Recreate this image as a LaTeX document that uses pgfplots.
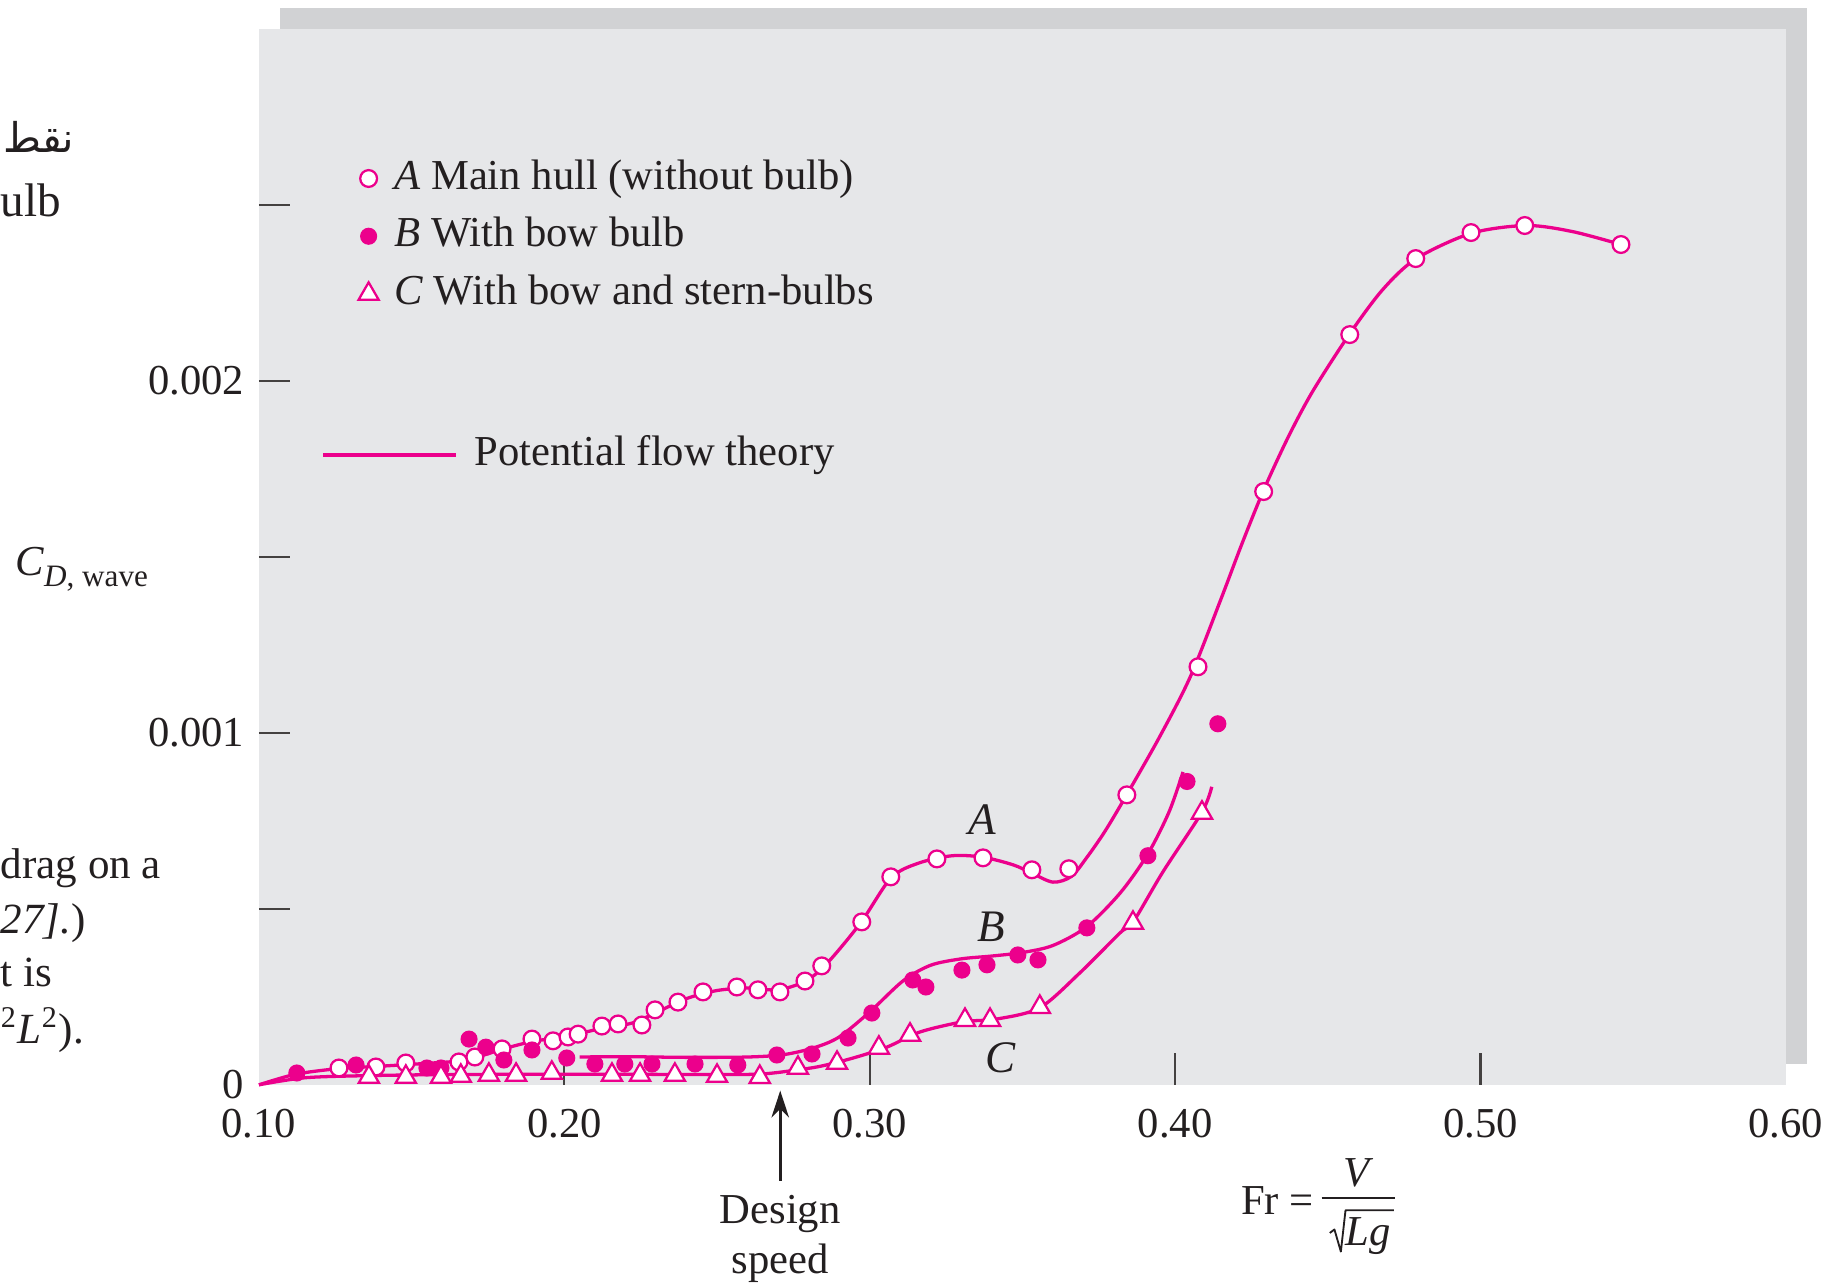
\documentclass[border=0pt]{standalone}
\usepackage{fontspec}
\setmainfont{Liberation Serif}
\newfontfamily\arabicfont[Script=Arabic]{DejaVu Sans}
\usepackage{pgfplots}
\usepackage{pgfplotstable}
\pgfplotsset{compat=1.18}
\usetikzlibrary{arrows.meta}
\TeXXeTstate=1

\definecolor{hullMag}{HTML}{EC008C}
\definecolor{inkDark}{HTML}{231F20}
\definecolor{panelGray}{HTML}{E6E7E9}
\definecolor{shadowGray}{HTML}{D1D2D4}

% measured points, A = main hull, B = bow bulb, C = bow + stern bulbs
\pgfplotstableread{
x y
0.1262 0.0000478
0.1383 0.0000506
0.1481 0.000062
0.1655 0.000065
0.1707 0.000079
0.1796 0.000102
0.1894 0.000130
0.1963 0.000125
0.2012 0.000136
0.2045 0.000144
0.2123 0.000167
0.2176 0.000173
0.2254 0.000170
0.2297 0.000213
0.2372 0.000235
0.2454 0.000264
0.2565 0.000278
0.2634 0.000270
0.2706 0.000264
0.2788 0.000295
0.2843 0.000338
0.2974 0.000463
0.3069 0.000591
0.3220 0.000642
0.3371 0.000645
0.3531 0.000611
0.3652 0.000614
0.3842 0.000824
0.4075 0.001188
0.4290 0.001686
0.4572 0.002132
0.4788 0.002348
0.4969 0.002422
0.5145 0.002442
0.5460 0.002388
}\Amarks

\pgfplotstableread{
x y
0.1124 0.0000336
0.1318 0.0000563
0.1550 0.0000478
0.1596 0.0000478
0.1688 0.000130
0.1743 0.000107
0.1802 0.0000705
0.1894 0.0000990
0.2008 0.0000762
0.2100 0.0000591
0.2198 0.0000591
0.2287 0.0000591
0.2428 0.0000591
0.2568 0.0000563
0.2696 0.0000847
0.2811 0.0000876
0.2929 0.000133
0.3007 0.000204
0.3141 0.000298
0.3184 0.000278
0.3302 0.000326
0.3384 0.000341
0.3485 0.000369
0.3551 0.000355
0.3711 0.000446
0.3911 0.000651
0.4039 0.000862
0.4140 0.001026
}\Bmarks

\pgfplotstableread{
x y
0.1360 0.0000222
0.1481 0.0000222
0.1596 0.0000222
0.1661 0.000025
0.1753 0.000028
0.1842 0.000028
0.1959 0.0000336
0.2156 0.000028
0.2248 0.000028
0.2362 0.000028
0.2500 0.000025
0.2640 0.000022
0.2765 0.0000478
0.2893 0.000062
0.3030 0.000105
0.3132 0.000142
0.3312 0.000184
0.3394 0.000184
0.3557 0.000221
0.3862 0.000460
0.4088 0.000773
}\Cmarks

% potential flow theory curves
\pgfplotstableread{
x y
0.100 0.000000
0.112 0.000030
0.126 0.000046
0.140 0.000053
0.155 0.000061
0.166 0.000068
0.172 0.000080
0.180 0.000102
0.190 0.000124
0.200 0.000136
0.212 0.000160
0.222 0.000175
0.230 0.000205
0.240 0.000245
0.250 0.000268
0.260 0.000275
0.270 0.000270
0.279 0.000295
0.286 0.000345
0.297 0.000460
0.307 0.000588
0.316 0.000630
0.327 0.000651
0.337 0.000647
0.347 0.000625
0.353 0.000602
0.360 0.000576
0.366 0.000592
0.371 0.000645
0.377 0.000720
0.384 0.000822
0.395 0.000990
0.405 0.001160
0.415 0.001380
0.422 0.001540
0.429 0.001690
0.437 0.001840
0.445 0.001970
0.457 0.002132
0.468 0.002260
0.479 0.002348
0.497 0.002420
0.515 0.002442
0.530 0.002425
0.546 0.002388
}\Aline

\pgfplotstableread{
x y
0.205 0.000079
0.220 0.000080
0.240 0.000078
0.260 0.000079
0.272 0.000086
0.282 0.000106
0.290 0.000136
0.300 0.000207
0.311 0.000296
0.320 0.000340
0.330 0.000358
0.340 0.000366
0.350 0.000376
0.360 0.000396
0.371 0.000449
0.382 0.000545
0.391 0.000655
0.398 0.000775
0.4026 0.000889
}\Bline

\pgfplotstableread{
x y
0.100 0.000000
0.115 0.000020
0.135 0.000026
0.160 0.000029
0.190 0.000030
0.220 0.000030
0.250 0.000029
0.265 0.000031
0.276 0.000042
0.284 0.000053
0.2945 0.000076
0.3056 0.000107
0.3164 0.000150
0.3305 0.000179
0.3416 0.000187
0.3557 0.000219
0.3688 0.000318
0.382 0.000432
0.3862 0.000462
0.396 0.000605
0.4088 0.000775
0.4120 0.000847
}\Cline

\pgfplotsset{cdwave frame/.style={
  scale only axis, at={(22.2mm,17.2mm)}, anchor=south west,
  width=130.9mm, height=90.5mm,
  xmin=0.1, xmax=0.6, ymin=0, ymax=0.003
}}

\begin{document}
\begin{tikzpicture}[font=\fontsize{10.4}{12.5}\selectfont, text=inkDark]
\path[use as bounding box] (0,0) rectangle (156.8mm,110.2mm);
\fill[shadowGray] (24.0mm,19.0mm) rectangle (154.9mm,109.5mm);

\begin{axis}[
  cdwave frame,
  axis background/.style={fill=panelGray},
  axis line style={draw=none},
  clip=false,
  tick pos=left, tick align=inside,
  major tick length=2.7mm,
  tick style={draw=inkDark!85, line width=0.55pt},
  xtick={0.2,0.3,0.4,0.5}, xticklabels={0.20,0.30,0.40,0.50},
  extra x ticks={0.1,0.6}, extra x tick labels={0.10,0.60},
  extra x tick style={major tick length=0pt},
  ytick={0.0005,0.001,0.0015,0.002,0.0025},
  yticklabels={,0.001,,0.002,},
  extra y ticks={0}, extra y tick labels={0},
  extra y tick style={major tick length=0pt},
  scaled ticks=false,
  tick label style={font=\fontsize{10.4}{12}\selectfont, text=inkDark},
  xticklabel style={inner sep=0pt, anchor=north, yshift=-2mm},
  yticklabel style={inner sep=0pt, anchor=east, xshift=-1.2mm},
  legend style={at={(0.0642,0.8773)}, anchor=north west,
    draw=none, fill=none, inner sep=0pt, outer sep=0pt,
    row sep=1.55mm, column sep=1.2mm,
    nodes={inner sep=0pt, text height=2.6mm, text depth=0.8mm},
    font=\fontsize{10.4}{12}\selectfont},
  legend cell align=left,
  legend image code/.code={\path[draw=none,fill=none] (-1mm,-0.5mm) rectangle (1mm,0.5mm);
    \draw[#1] plot coordinates {(0mm,0mm)};},
]
\addplot[hullMag, line width=0.8pt, smooth, no marks, forget plot] table {\Aline};
\addplot[hullMag, line width=0.8pt, smooth, no marks, forget plot] table {\Bline};
\addplot[hullMag, line width=0.8pt, smooth, no marks, forget plot] table {\Cline};

\addplot[only marks, hullMag, mark=*, mark size=0.72mm,
  mark options={fill=white, line width=0.55pt}] table {\Amarks};
\addlegendentry{\textit{A} Main hull (without bulb)}
\addplot[only marks, hullMag, mark=*, mark size=0.68mm,
  mark options={fill=hullMag, line width=0.3pt}] table {\Bmarks};
\addlegendentry{\textit{B} With bow bulb}
\addplot[only marks, hullMag, mark=triangle*, mark size=1.0mm,
  mark options={fill=white, line width=0.55pt}] table {\Cmarks};
\addlegendentry{\textit{C} With bow and stern-bulbs}

\node[font=\fontsize{11}{13}\selectfont\itshape] at (axis cs:0.3368,0.000753) {A};
\node[font=\fontsize{11}{13}\selectfont\itshape] at (axis cs:0.3399,0.000448) {B};
\node[font=\fontsize{11}{13}\selectfont\itshape] at (axis cs:0.3429,0.0000763) {C};

\draw[inkDark, line width=0.7pt, -{Stealth[length=2.3mm,width=1.5mm]}]
  (axis cs:0.2707,-0.000272) -- (axis cs:0.2707,-0.0000166);
\node[align=center, font=\fontsize{10.4}{12.3}\selectfont]
  at (axis cs:0.2707,-0.000438) {Design\\speed};
\end{axis}

\begin{axis}[
  cdwave frame, hide axis,
  legend style={at={(0.0405,0.6155)}, anchor=north west,
    draw=none, fill=none, inner sep=0pt, outer sep=0pt, column sep=1.4mm,
    nodes={inner sep=0pt, text height=2.6mm, text depth=0.8mm},
    font=\fontsize{10.4}{12}\selectfont},
  legend image code/.code={\draw[#1] (0mm,0mm) -- (11.4mm,0mm);},
]
\addlegendimage{hullMag, line width=1.1pt}
\addlegendentry{Potential flow theory}
\end{axis}

% y label
\node at (7.0mm,61.4mm) {\textit{C}\raisebox{-0.55ex}{\fontsize{7.6}{9}\selectfont\textit{D}, wave}};
% x label: Fr = V / sqrt(Lg), fraction bar and radical drawn
\node[anchor=east, inner sep=0pt] at (112.7mm,7.3mm) {Fr =};
\draw[inkDark, line width=0.45pt] (113.3mm,7.5mm) -- (119.6mm,7.5mm);
\node[anchor=base, inner sep=0pt] at (116.5mm,8.5mm) {\textit{V}};
\node[anchor=base, inner sep=0pt] at (117.3mm,3.4mm) {\textit{Lg}};
\draw[inkDark, line width=0.45pt, line join=round]
  (114.0mm,4.5mm) -- (114.4mm,4.8mm) -- (114.95mm,2.9mm) -- (115.35mm,6.45mm) -- (119.5mm,6.45mm);

% fragments of the surrounding page text
\node[anchor=west, inner sep=0pt, font=\fontsize{10}{12}\selectfont\arabicfont] at (0.2mm,98.5mm) {\beginR نقط\endR};
\node[anchor=base west, inner sep=0pt, font=\fontsize{11.5}{14}\selectfont] at (0mm,91.6mm) {ulb};
\node[anchor=base west, inner sep=0pt, font=\fontsize{10.5}{13}\selectfont] at (0mm,34.9mm) {drag on a};
\node[anchor=base west, inner sep=0pt, font=\fontsize{10.5}{13}\selectfont] at (0mm,30.2mm) {\textit{27].})};
\node[anchor=base west, inner sep=0pt, font=\fontsize{10.5}{13}\selectfont] at (0mm,25.6mm) {t is};
\node[anchor=base west, inner sep=0pt, font=\fontsize{10.5}{13}\selectfont] at (0mm,20.7mm) {\textsuperscript{2}\textit{L}\textsuperscript{2}).};
\end{tikzpicture}
\end{document}
